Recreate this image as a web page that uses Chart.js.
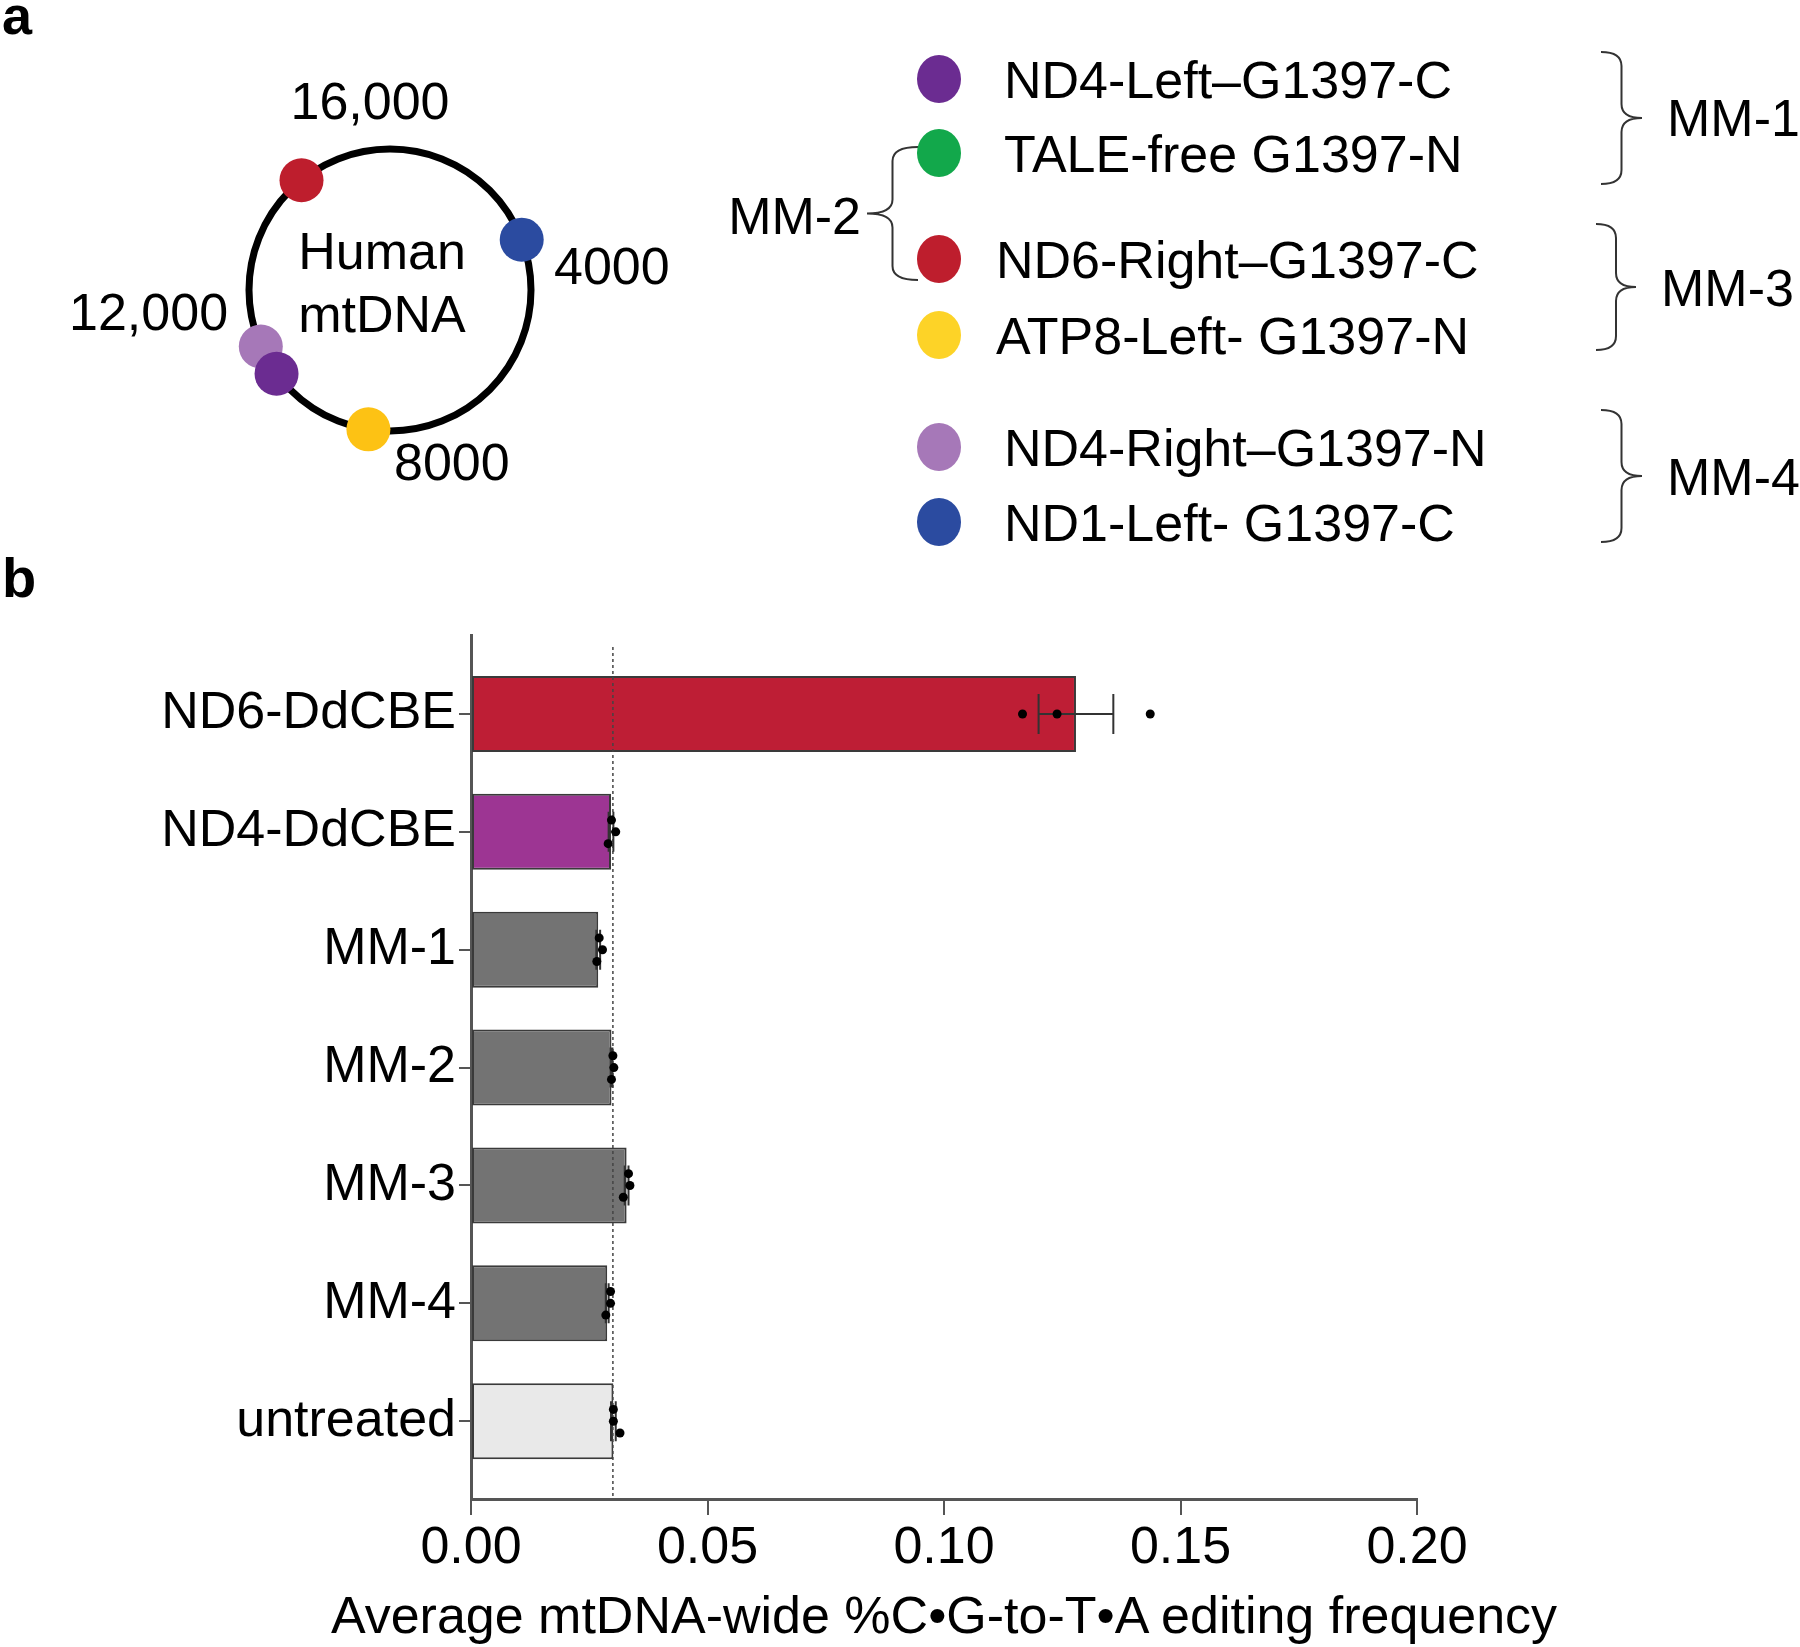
<!DOCTYPE html>
<html>
<head>
<meta charset="utf-8">
<script src="https://cdn.jsdelivr.net/npm/chart.js@4.4.1/dist/chart.umd.min.js"></script>
<style>
  html, body { margin: 0; padding: 0; background: #fff; }
  body { width: 1800px; height: 1647px; position: relative; overflow: hidden;
         font-family: "Liberation Sans", Arial, sans-serif; color: #000; }
  .t { position: absolute; white-space: nowrap; line-height: 1; }
  .dot { position: absolute; width: 44px; height: 48px; border-radius: 50%; }
  canvas { position: absolute; }
  svg { position: absolute; left: 0; top: 0; }
</style>
</head>
<body>
<svg id="braces" width="1800" height="560"></svg>
<canvas id="mapChart" width="380" height="380" style="left:200px;top:100px"></canvas>
<canvas id="barChart" width="1800" height="1087" style="left:0;top:560px"></canvas>
<script>
// panel b data
const categories = ['ND6-DdCBE', 'ND4-DdCBE', 'MM-1', 'MM-2', 'MM-3', 'MM-4', 'untreated'];
const meanFreq = [0.1279, 0.0296, 0.0269, 0.0297, 0.0329, 0.0288, 0.0301];
const semFreq  = [0.0079, 0.0005, 0.0004, 0.0002, 0.0004, 0.0003, 0.0005];
const rep1 = [0.1166, 0.0297, 0.0271, 0.0300, 0.0333, 0.0295, 0.0301];
const rep2 = [0.1239, 0.0306, 0.0278, 0.0302, 0.0336, 0.0295, 0.0301];
const rep3 = [0.1436, 0.0290, 0.0266, 0.0297, 0.0322, 0.0285, 0.0315];
const xTicks = [0, 0.05, 0.10, 0.15, 0.20];
const refLine = 0.030;
const xTitle = 'Average mtDNA-wide %C\u2022G-to-T\u2022A editing frequency';

// panel a data (approximate positions on the 16,569 bp genome)
const mtLength = 16569;
const sitePos = [3180, 8690, 14780, 11340, 10750];
const siteColors = ['#2b4ba0', '#fdc214', '#be1e2d', '#a678b8', '#6b2c91'];

const legendNames = ['ND4-Left\u2013G1397-C', 'TALE-free G1397-N', 'ND6-Right\u2013G1397-C',
                     'ATP8-Left- G1397-N', 'ND4-Right\u2013G1397-N', 'ND1-Left- G1397-C'];
const legendColors = ['#6b2c91', '#12a84b', '#be1e2d', '#fdd327', '#a678b8', '#2b4ba0'];

const barColors = ['#be1e35', '#9d3593', '#737373', '#737373', '#737373', '#737373', '#e9e9e9'];
const FONT = '"Liberation Sans", Arial, sans-serif';
Chart.defaults.font.family = FONT;

// text helper: x, baseline in page pixels
function addText(str, x, baseline, opts) {
  opts = opts || {};
  const size = opts.size || 52;
  const el = document.createElement('div');
  el.className = 't';
  el.textContent = str;
  el.style.fontSize = size + 'px';
  if (opts.bold) el.style.fontWeight = 'bold';
  el.style.top = (baseline - 0.8465 * size) + 'px';
  if (opts.align === 'center') {
    el.style.left = x + 'px';
    el.style.transform = 'translateX(-50%)';
  } else if (opts.align === 'right') {
    el.style.right = (1800 - x) + 'px';
  } else {
    el.style.left = x + 'px';
  }
  document.body.appendChild(el);
}

addText('a', 2, 34, { size: 54, bold: true });
addText('b', 2, 597, { size: 56, bold: true });
addText('16,000', 370, 119, { align: 'center' });
addText('Human', 382, 269, { align: 'center' });
addText('mtDNA', 382, 332, { align: 'center' });
addText('4000', 554, 284);
addText('12,000', 69, 330);
addText('8000', 394, 480);
addText(xTitle, 944, 1633, { align: 'center' });

// legend
const legendY = [79, 153, 259, 335, 447, 522];
const legendX = [1004, 1004, 996, 996, 1004, 1004];
legendNames.forEach((name, i) => {
  const d = document.createElement('div');
  d.className = 'dot';
  d.style.left = (939 - 22) + 'px';
  d.style.top = (legendY[i] - 24) + 'px';
  d.style.background = legendColors[i];
  document.body.appendChild(d);
  addText(name, legendX[i], legendY[i] + 18.6);
});

// braces
function bracePath(xe, y0, y1, w) {
  const xs = xe + w * 0.5, xt = xe + w, ym = (y0 + y1) / 2, r = 14;
  return `M${xe},${y0} Q${xs},${y0} ${xs},${y0 + r} L${xs},${ym - r} Q${xs},${ym} ${xt},${ym} ` +
         `Q${xs},${ym} ${xs},${ym + r} L${xs},${y1 - r} Q${xs},${y1} ${xe},${y1}`;
}
const svg = document.getElementById('braces');
[[1601, 52, 184, 41], [1596, 224, 350, 40], [1601, 410, 542, 41], [918, 147, 280, -51]].forEach(b => {
  const p = document.createElementNS('http://www.w3.org/2000/svg', 'path');
  p.setAttribute('d', bracePath(b[0], b[1], b[2], b[3]));
  p.setAttribute('fill', 'none');
  p.setAttribute('stroke', '#333');
  p.setAttribute('stroke-width', '2');
  svg.appendChild(p);
});
addText('MM-1', 1667, 136);
addText('MM-3', 1661, 306);
addText('MM-4', 1667, 495);
addText('MM-2', 861, 234, { align: 'right' });

// mtDNA ring
const ringPlugin = {
  id: 'ring',
  beforeDatasetsDraw(chart) {
    const { ctx, scales: { x, y } } = chart;
    const cx = x.getPixelForValue(0), cy = y.getPixelForValue(0);
    const r = x.getPixelForValue(1) - cx;
    ctx.save();
    ctx.beginPath();
    ctx.arc(cx, cy, r, 0, Math.PI * 2);
    ctx.lineWidth = 7;
    ctx.strokeStyle = '#000';
    ctx.stroke();
    ctx.restore();
  }
};

const mapChart = new Chart(document.getElementById('mapChart'), {
  type: 'scatter',
  data: {
    datasets: [{
      data: sitePos.map(p => ({
        x: Math.sin(2 * Math.PI * p / mtLength),
        y: Math.cos(2 * Math.PI * p / mtLength)
      })),
      backgroundColor: siteColors,
      pointRadius: 22,
      borderWidth: 0,
      clip: false
    }]
  },
  options: {
    responsive: false,
    animation: false,
    layout: { padding: 0, autoPadding: false },
    plugins: { legend: { display: false }, tooltip: { enabled: false } },
    scales: {
      x: { display: false, min: -1.3475, max: 1.3475 },
      y: { display: false, min: -1.3475, max: 1.3475 }
    }
  },
  plugins: [ringPlugin]
});

// dashed reference line + error bars, drawn right after the bars
const overlayPlugin = {
  id: 'overlay',
  afterDatasetDraw(chart, args) {
    if (args.index !== 0) return;
    const { ctx, chartArea, scales: { x, y } } = chart;
    ctx.save();
    // reference line
    const rx = x.getPixelForValue(refLine);
    ctx.beginPath();
    ctx.setLineDash([3, 3]);
    ctx.lineWidth = 1.5;
    ctx.strokeStyle = '#444';
    ctx.moveTo(rx, chartArea.top + 12);
    ctx.lineTo(rx, chartArea.bottom);
    ctx.stroke();
    ctx.setLineDash([]);
    // error bars (mean +/- SEM)
    ctx.strokeStyle = '#333';
    ctx.lineWidth = 2;
    categories.forEach((c, i) => {
      const yy = y.getPixelForValue(i);
      const x1 = x.getPixelForValue(meanFreq[i] - semFreq[i]);
      const x2 = x.getPixelForValue(meanFreq[i] + semFreq[i]);
      ctx.beginPath();
      ctx.moveTo(x1, yy); ctx.lineTo(x2, yy);
      ctx.moveTo(x1, yy - 20); ctx.lineTo(x1, yy + 20);
      ctx.moveTo(x2, yy - 20); ctx.lineTo(x2, yy + 20);
      ctx.stroke();
    });
    ctx.restore();
  }
};

// vertical spread of replicate dots inside each bar
const jitter = [[0, 0, 0], [-0.1, 0, 0.1], [-0.1, 0, 0.1], [-0.1, 0, 0.1],
                [-0.1, 0, 0.1], [-0.1, 0, 0.1], [-0.1, 0, 0.1]];
const replicates = [rep1, rep2, rep3];

const barChart = new Chart(document.getElementById('barChart'), {
  type: 'bar',
  data: {
    datasets: [{
      type: 'bar',
      indexAxis: 'y',
      data: categories.map((c, i) => ({ x: meanFreq[i], y: i })),
      backgroundColor: barColors,
      borderColor: '#3a3a3a',
      borderWidth: 2,
      borderSkipped: false,
      categoryPercentage: 1,
      barPercentage: 0.645,
      order: 2
    }].concat(replicates.map((rep, r) => ({
      type: 'scatter',
      data: categories.map((c, i) => ({ x: rep[i], y: i + jitter[i][r] })),
      backgroundColor: '#000',
      pointRadius: 4.5,
      borderWidth: 0,
      order: 1
    })))
  },
  options: {
    responsive: false,
    animation: false,
    layout: { padding: { top: 75, right: 383, bottom: 2, left: 0 }, autoPadding: false },
    plugins: { legend: { display: false }, tooltip: { enabled: false } },
    scales: {
      x: {
        type: 'linear', min: 0, max: 0.2, offset: false,
        afterBuildTicks: s => { s.ticks = xTicks.map(v => ({ value: v })); },
        afterFit: s => { s.height = 146; },
        ticks: {
          callback: v => Number(v).toFixed(2),
          font: { size: 52 }, color: '#000', padding: 2,
          maxRotation: 0, autoSkip: false
        },
        grid: { offset: false, drawOnChartArea: false, drawTicks: true, tickLength: 16, color: '#555', lineWidth: 2 },
        border: { display: true, color: '#555', width: 3 }
      },
      y: {
        type: 'linear', min: -0.67, max: 6.66, reverse: true, offset: false,
        afterBuildTicks: s => { s.ticks = categories.map((c, i) => ({ value: i })); },
        afterFit: s => { s.width = 471; },
        ticks: {
          callback: v => categories[v],
          font: { size: 52 }, color: '#000', padding: 3, autoSkip: false
        },
        grid: { offset: false, drawOnChartArea: false, drawTicks: true, tickLength: 12, color: '#555', lineWidth: 2 },
        border: { display: true, color: '#555', width: 3 }
      }
    }
  },
  plugins: [overlayPlugin]
});
</script>
</body>
</html>
